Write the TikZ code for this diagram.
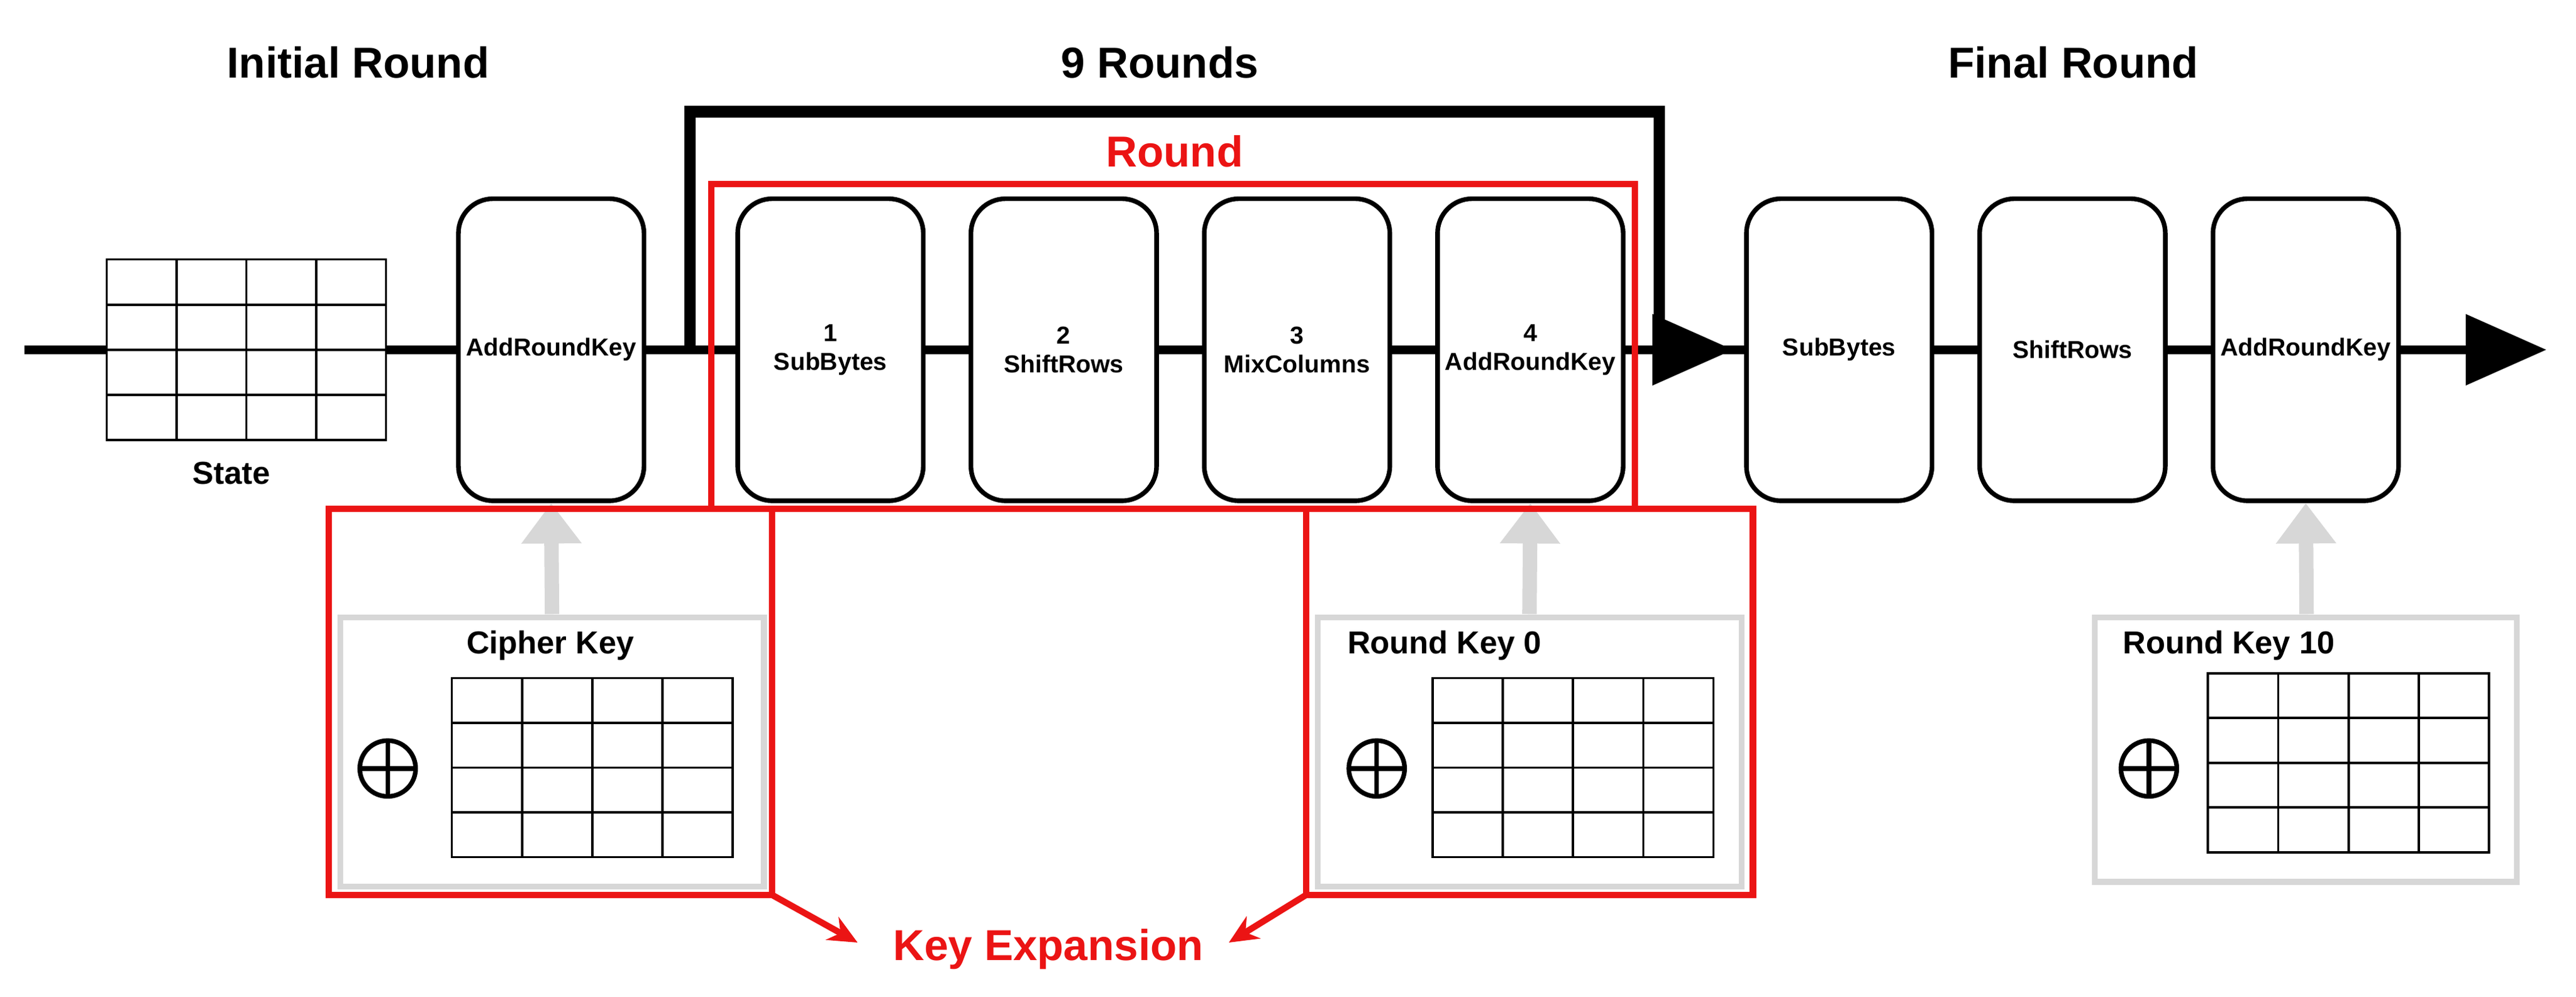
\documentclass[tikz,border=0pt]{standalone}
\usepackage{fontspec}
\setmainfont{Liberation Sans}
\usetikzlibrary{arrows.meta}
\definecolor{redc}{RGB}{235,20,20}
\definecolor{grayc}{RGB}{215,215,215}
\begin{document}
\begin{tikzpicture}[x=0.02cm,y=-0.02cm,
  blk/.style={draw,line width=1.6pt,rounded corners=12pt,minimum width=2.26cm,minimum height=3.68cm,text width=2.1cm,align=center,font=\bfseries\fontsize{8.5}{10}\selectfont,inner sep=0},
  head/.style={font=\bfseries\fontsize{15}{18}\selectfont},
  lbl/.style={font=\bfseries\fontsize{11}{13}\selectfont},
  redt/.style={font=\bfseries\fontsize{15}{18}\selectfont,text=redc},
  rbox/.style={draw=redc,line width=2.2pt},
  gbox/.style={draw=grayc,line width=2pt},
  garr/.style={draw=grayc,line width=5pt,-{Triangle[length=14pt,width=20pt]}},
  grid/.style={line width=0.8pt}]
\useasboundingbox (0,0) rectangle (1568,607);
% main line
\coordinate (s) at (15,213);
\coordinate (e) at (1550,213);
\draw[line width=3pt] (s) -- (1520,213);
\draw[line width=3pt,-{Triangle[length=28pt,width=24pt]}] (1500,213) -- (e);
% headings
\node[head] (h1) at (218,38) {Initial Round};
\node[head] (h2) at (706,38) {9 Rounds};
\node[head] (h3) at (1262,38) {Final Round};
% state grid
\fill[white] (65,158) rectangle (235,268);
\draw[grid] (65,158) rectangle (235,268);
\foreach \i in {1,2,3}{\draw[grid] (65+42.5*\i,158) -- (65+42.5*\i,268); \draw[grid] (65,158+27.5*\i) -- (235,158+27.5*\i);}
\node[lbl] (st) at (141,288) {State};
% bracket
\coordinate (b1) at (420,213);\coordinate (b2) at (420,68);\coordinate (b3) at (1010,68);\coordinate (b4) at (1010,213);
\draw[line width=4pt] (b1) -- (b2) -- (b3) -- (b4);
\draw[line width=3pt,-{Triangle[length=28pt,width=24pt]}] (1000,213) -- (1055,213);
% boxes
\node[blk,fill=white] (ark0) at (335.5,213) {AddRoundKey};
\node[blk,fill=white] (sb) at (505.5,213) {1\\SubBytes};
\node[blk,fill=white] (sr) at (647.5,213) {2\\ShiftRows};
\node[blk,fill=white] (mc) at (789.5,213) {3\\MixColumns};
\node[blk,fill=white] (ark) at (931.5,213) {4\\AddRoundKey};
\node[blk,fill=white] (fsb) at (1119.5,213) {SubBytes};
\node[blk,fill=white] (fsr) at (1261.5,213) {ShiftRows};
\node[blk,fill=white] (fark) at (1403.5,213) {AddRoundKey};
% round box
\draw[rbox] (433,112) rectangle (995,310);
\node[redt] (rl) at (715,92) {Round};
% gray key boxes
\draw[gbox] (207,376) rectangle (465,540);
\draw[gbox] (802,376) rectangle (1060,540);
\draw[gbox] (1275,376) rectangle (1532,537);
\node[lbl] (ck) at (335,393) {Cipher Key};
\node[lbl,anchor=west] (rk0) at (814,393) {Round Key 0};
\node[lbl,anchor=west] (rk10) at (1286,393) {Round Key 10};
\foreach \x/\y in {275/413,872/413,1344/410}{
  \draw[grid] (\x,\y) rectangle (\x+171,\y+109);
  \foreach \i in {1,2,3}{\draw[grid] (\x+42.75*\i,\y) -- (\x+42.75*\i,\y+109); \draw[grid] (\x,\y+27.25*\i) -- (\x+171,\y+27.25*\i);}
}
\foreach \x in {236,838,1308}{
  \draw[line width=1.6pt] (\x,468) circle (17);
  \draw[line width=1.6pt] (\x-17,468) -- (\x+17,468) (\x,451) -- (\x,485);
}
\coordinate (g1) at (336,374);\coordinate (g2) at (931,374);\coordinate (g3) at (1404,374);
\draw[garr] (g1) -- (ark0.south);
\draw[garr] (g2) -- (ark.south);
\draw[garr] (g3) -- (fark.south);
% red key expansion boxes
\draw[rbox] (200,310) rectangle (470,545);
\draw[rbox] (795,310) rectangle (1067,545);
\node[redt] (ke) at (638,578) {Key Expansion};
\coordinate (k1) at (470,545);\coordinate (k2) at (795,545);
\coordinate (t1) at (522,574);\coordinate (t2) at (748,574);
\draw[redc,line width=2.2pt,-{Stealth[length=10pt,width=9pt]}] (k1) -- (t1);
\draw[redc,line width=2.2pt,-{Stealth[length=10pt,width=9pt]}] (k2) -- (t2);
\end{tikzpicture}
\end{document}
